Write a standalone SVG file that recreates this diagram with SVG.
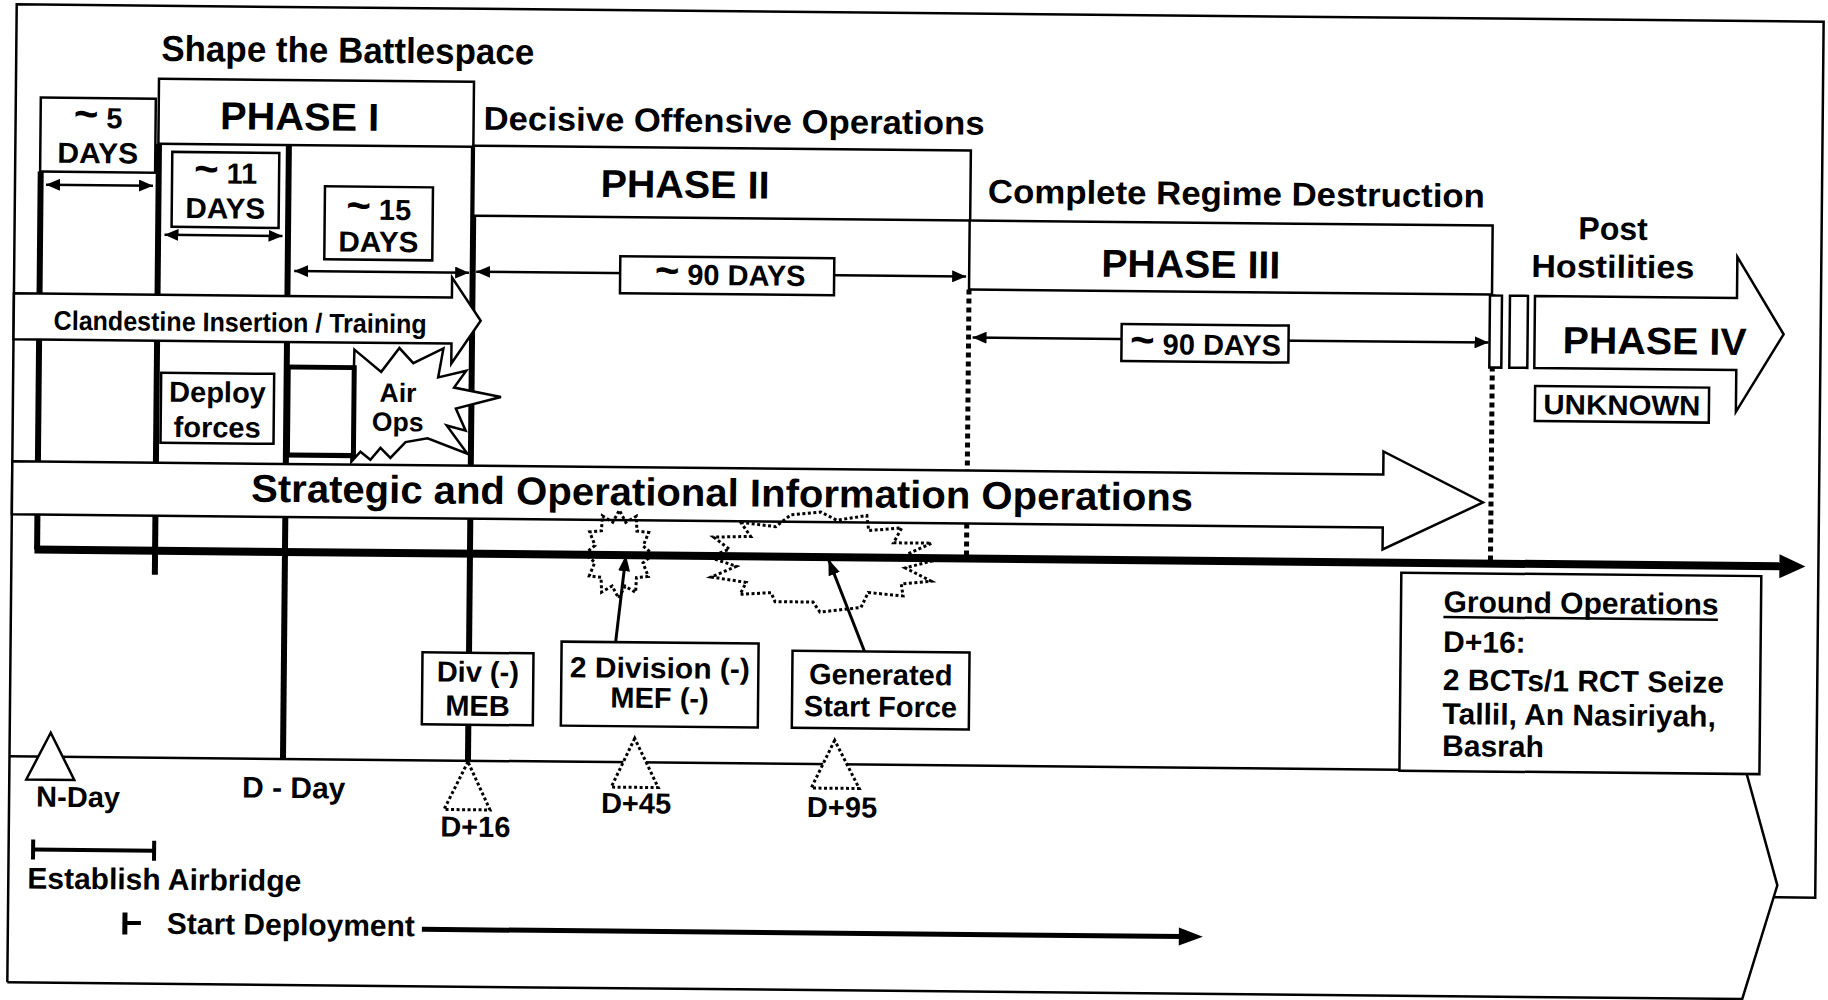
<svg xmlns="http://www.w3.org/2000/svg" width="1828" height="1000" viewBox="0 0 1828 1000">
<style>
.t{font-family:"Liberation Sans",Arial,Helvetica,sans-serif;font-weight:bold;fill:#000}
.c{text-anchor:middle}
.box{fill:#fff;stroke:#000;stroke-width:2.5}
.ln{fill:none;stroke:#000;stroke-width:2.5}
.thick{fill:none;stroke:#000;stroke-width:6}
.dot{fill:none;stroke:#000;stroke-width:5;stroke-dasharray:5 4}
.span{fill:none;stroke:#000;stroke-width:2.5;marker-start:url(#ah);marker-end:url(#ah)}
.burst{fill:none;stroke:#000;stroke-width:3;stroke-dasharray:3 2.5}
.dtri{fill:#fff;stroke:#000;stroke-width:3;stroke-dasharray:3 2.5}
.arr{fill:#fff;stroke:#000;stroke-width:2.5}
.con{fill:none;stroke:#000;stroke-width:3;marker-end:url(#ah2)}
</style>
<defs>
<marker id="ah" viewBox="0 0 14 12" refX="14" refY="6" markerWidth="14" markerHeight="12" markerUnits="userSpaceOnUse" orient="auto-start-reverse"><path d="M0,0 L14,6 L0,12 z" fill="#000"/></marker>
<marker id="ah2" viewBox="0 0 16 12" refX="16" refY="6" markerWidth="16" markerHeight="12" markerUnits="userSpaceOnUse" orient="auto"><path d="M0,0 L16,6 L0,12 z" fill="#000"/></marker>
</defs>
<rect width="1828" height="1000" fill="#fff"/>
<g transform="rotate(0.55 914 500)">
<g id="frame">
<path class="ln" d="M1777,889 L1819,889 L1819,13 L12,13 L12,991"/>
<path class="ln" d="M12,765 L1749,765 L1781,877 L1747,991 L12,991"/>
</g>
<g id="gridlines">
<line class="thick" x1="37.6" y1="180" x2="37.6" y2="558"/>
<line class="thick" x1="155.6" y1="151" x2="155.6" y2="582"/>
<line class="thick" x1="285.5" y1="151" x2="285.5" y2="765"/>
<line class="thick" x1="470.5" y1="151" x2="470.5" y2="766"/>
<line class="dot" x1="967" y1="289" x2="967" y2="556"/>
<line class="dot" x1="1491" y1="289" x2="1491" y2="556"/>
</g>
<g id="timeline">
<line x1="35" y1="558" x2="1784" y2="558" stroke="#000" stroke-width="8"/>
<polygon points="1780,546 1806,558 1780,570" fill="#000"/>
</g>
<g id="phase1">
<rect class="box" x="155" y="86" width="315" height="65"/>
<text class="t c" x="296" y="136" font-size="39" textLength="159" lengthAdjust="spacingAndGlyphs">PHASE I</text>
</g>
<g id="phase2">
<rect class="box" x="470.5" y="150" width="497" height="70"/>
<text class="t c" x="682" y="200" font-size="39" textLength="169" lengthAdjust="spacingAndGlyphs">PHASE II</text>
</g>
<g id="phase3">
<rect class="box" x="967" y="220" width="523" height="69"/>
<text class="t c" x="1188.5" y="275" font-size="39" textLength="179" lengthAdjust="spacingAndGlyphs">PHASE III</text>
</g>
<g id="spans">
<line class="span" x1="43" y1="193" x2="150" y2="193"/>
<line class="span" x1="162" y1="242" x2="280" y2="242"/>
<line class="span" x1="292" y1="277" x2="467" y2="277"/>
<line class="span" x1="474" y1="276" x2="964" y2="276"/>
<line class="span" x1="971" y1="337" x2="1487" y2="337"/>
</g>
<g id="days5">
<rect class="box" x="37" y="106" width="115" height="74"/>
<text class="t c" x="94.5" y="136" font-size="29"><tspan font-size="42">~</tspan> 5</text>
<text class="t c" x="94.5" y="171" font-size="29" textLength="81" lengthAdjust="spacingAndGlyphs">DAYS</text>
</g>
<g id="days11">
<rect class="box" x="169" y="159" width="107" height="75"/>
<text class="t c" x="222.5" y="190" font-size="29"><tspan font-size="42">~</tspan> 11</text>
<text class="t c" x="222.5" y="225" font-size="29" textLength="80" lengthAdjust="spacingAndGlyphs">DAYS</text>
</g>
<g id="days15">
<rect class="box" x="322" y="192" width="108" height="73"/>
<text class="t c" x="376" y="225" font-size="29"><tspan font-size="42">~</tspan> 15</text>
<text class="t c" x="376" y="257" font-size="29" textLength="80" lengthAdjust="spacingAndGlyphs">DAYS</text>
</g>
<g id="days90a">
<rect class="box" x="618" y="259" width="214" height="37"/>
<text class="t c" x="728" y="287" font-size="29"><tspan font-size="42">~</tspan> 90 DAYS</text>
</g>
<g id="days90b">
<rect class="box" x="1120" y="322" width="167" height="37"/>
<text class="t c" x="1204" y="352" font-size="29"><tspan font-size="42">~</tspan> 90 DAYS</text>
</g>
<g id="airops">
<polygon class="arr" points="353,355 380,377 398,353 412,368 442,353 437,382 465,375 453,392 500,401 455,413 465,435 446,430 467,458 427,443 405,447 390,463 380,453 370,465 360,457 351,467"/>
<text class="t c" x="397" y="407" font-size="26.5">Air</text>
<text class="t c" x="397" y="436" font-size="26.5">Ops</text>
</g>
<g id="clandestine">
<path class="arr" d="M12,302 L450,302 L450,282 L479,325 L450,368 L450,348 L12,348 Z"/>
<text class="t" x="52" y="338" font-size="27" textLength="373" lengthAdjust="spacingAndGlyphs">Clandestine Insertion / Training</text>
</g>
<g id="deploy">
<rect class="box" x="160" y="380" width="113" height="70"/>
<text class="t c" x="216.5" y="409" font-size="29">Deploy</text>
<text class="t c" x="216.5" y="444" font-size="29">forces</text>
</g>
<g id="smallbox">
<rect x="287" y="373" width="66" height="88" fill="#fff" stroke="#000" stroke-width="5"/>
</g>
<g id="strategic">
<path class="arr" d="M12,470 L1383,470 L1383,447 L1483,497 L1383,545 L1383,523 L12,523 Z"/>
<text class="t" x="251" y="508" font-size="39" textLength="942" lengthAdjust="spacingAndGlyphs">Strategic and Operational Information Operations</text>
</g>
<g id="phase4">
<rect class="box" x="1488" y="290" width="12" height="72"/>
<rect class="box" x="1508" y="290" width="18" height="72"/>
<path class="arr" d="M1533,290 L1735,290 L1735,249 L1782,326 L1735,404 L1735,362 L1533,362 Z"/>
<text class="t" x="1561" y="347" font-size="38" textLength="184" lengthAdjust="spacingAndGlyphs">PHASE IV</text>
</g>
<g id="unknown">
<rect class="box" x="1534" y="380" width="174" height="35"/>
<text class="t c" x="1621" y="408" font-size="28" textLength="157" lengthAdjust="spacingAndGlyphs">UNKNOWN</text>
</g>
<g id="headings">
<text class="t" x="157" y="68" font-size="36" textLength="373" lengthAdjust="spacingAndGlyphs">Shape the Battlespace</text>
<text class="t" x="480" y="134" font-size="33" textLength="501" lengthAdjust="spacingAndGlyphs">Decisive Offensive Operations</text>
<text class="t" x="985" y="202" font-size="33" textLength="497" lengthAdjust="spacingAndGlyphs">Complete Regime Destruction</text>
<text class="t c" x="1610.5" y="233" font-size="32">Post</text>
<text class="t c" x="1610.5" y="271" font-size="32" textLength="163" lengthAdjust="spacingAndGlyphs">Hostilities</text>
</g>
<g id="bursts">
<polygon class="burst" points="653.5,557 643.6,565.5 649,579 637.2,580.3 636.5,595.1 626,588.9 619.5,601 613,588.9 602.5,595.1 601.8,580.3 590,579 595.4,565.5 585.5,557 595.4,548.5 590,535 601.8,533.7 602.5,518.9 613,525.1 619.5,513 626,525.1 636.5,518.9 637.2,533.7 649,535 643.6,548.5"/>
<polygon class="burst" points="741,524 776,528 791,516 821,513 837,521 867,516 869,531 902,528 894,543 932,543 908,554 932,561 906,568 932,581 902,584 904,596 869,593 862,608 821,613 814,603 776,603 772,594 741,596 747,584 712,579 737,568 709,559 730,551 714,539 751,538"/>
</g>
<g id="connectors">
<line class="con" x1="617" y1="645" x2="626.5" y2="558"/>
<line class="con" x1="866" y1="652" x2="829" y2="560"/>
</g>
<g id="divmeb">
<rect class="box" x="424" y="657" width="111" height="72"/>
<text class="t c" x="479.5" y="686" font-size="29">Div (-)</text>
<text class="t c" x="479.5" y="720" font-size="29">MEB</text>
</g>
<g id="div2">
<rect class="box" x="563" y="645" width="197" height="84"/>
<text class="t c" x="661.5" y="680.5" font-size="29" textLength="180" lengthAdjust="spacingAndGlyphs">2 Division (-)</text>
<text class="t c" x="661.5" y="710.5" font-size="29">MEF (-)</text>
</g>
<g id="genforce">
<rect class="box" x="794" y="652" width="177" height="77"/>
<text class="t c" x="882.5" y="685" font-size="29">Generated</text>
<text class="t c" x="882.5" y="717" font-size="29">Start Force</text>
</g>
<g id="groundops">
<rect class="box" x="1402" y="568" width="360" height="198"/>
<text class="t" x="1444.5" y="607" font-size="30">Ground Operations</text>
<line x1="1444.5" y1="612" x2="1719" y2="612" stroke="#000" stroke-width="2.5"/>
<text class="t" x="1444.5" y="647" font-size="30">D+16:</text>
<text class="t" x="1444.5" y="685" font-size="30">2 BCTs/1 RCT Seize</text>
<text class="t" x="1444.5" y="719" font-size="30">Tallil, An Nasiriyah,</text>
<text class="t" x="1444.5" y="751" font-size="30">Basrah</text>
</g>
<g id="nday">
<polygon points="53,741 29,788 77,788" fill="#fff" stroke="#000" stroke-width="2.5"/>
<text class="t c" x="81" y="815" font-size="29">N-Day</text>
</g>
<g id="dday">
<text class="t c" x="296.5" y="804" font-size="30">D - Day</text>
</g>
<g id="d16">
<polygon class="dtri" points="470.5,766 447,814 493,814"/>
<text class="t c" x="478.5" y="841" font-size="29">D+16</text>
</g>
<g id="d45">
<polygon class="dtri" points="637,741 614,790 661,790"/>
<text class="t c" x="639" y="816" font-size="29">D+45</text>
</g>
<g id="d95">
<polygon class="dtri" points="837,741 814,789 862,789"/>
<text class="t c" x="845" y="818" font-size="29">D+95</text>
</g>
<g id="airbridge">
<line x1="36.5" y1="858" x2="157.5" y2="858" stroke="#000" stroke-width="4"/>
<line x1="36.5" y1="848" x2="36.5" y2="868" stroke="#000" stroke-width="4"/>
<line x1="157.5" y1="848" x2="157.5" y2="868" stroke="#000" stroke-width="4"/>
<text class="t" x="31" y="897" font-size="30" textLength="274" lengthAdjust="spacingAndGlyphs">Establish Airbridge</text>
</g>
<g id="deployment">
<line x1="129" y1="920" x2="129" y2="942" stroke="#000" stroke-width="5"/>
<line x1="129" y1="930.5" x2="145" y2="930.5" stroke="#000" stroke-width="4"/>
<text class="t" x="171" y="941" font-size="30" textLength="248" lengthAdjust="spacingAndGlyphs">Start Deployment</text>
<line x1="426" y1="934" x2="1186" y2="934" stroke="#000" stroke-width="5"/>
<polygon points="1183,925 1207,934 1183,943" fill="#000"/>
</g>
</g>
</svg>
